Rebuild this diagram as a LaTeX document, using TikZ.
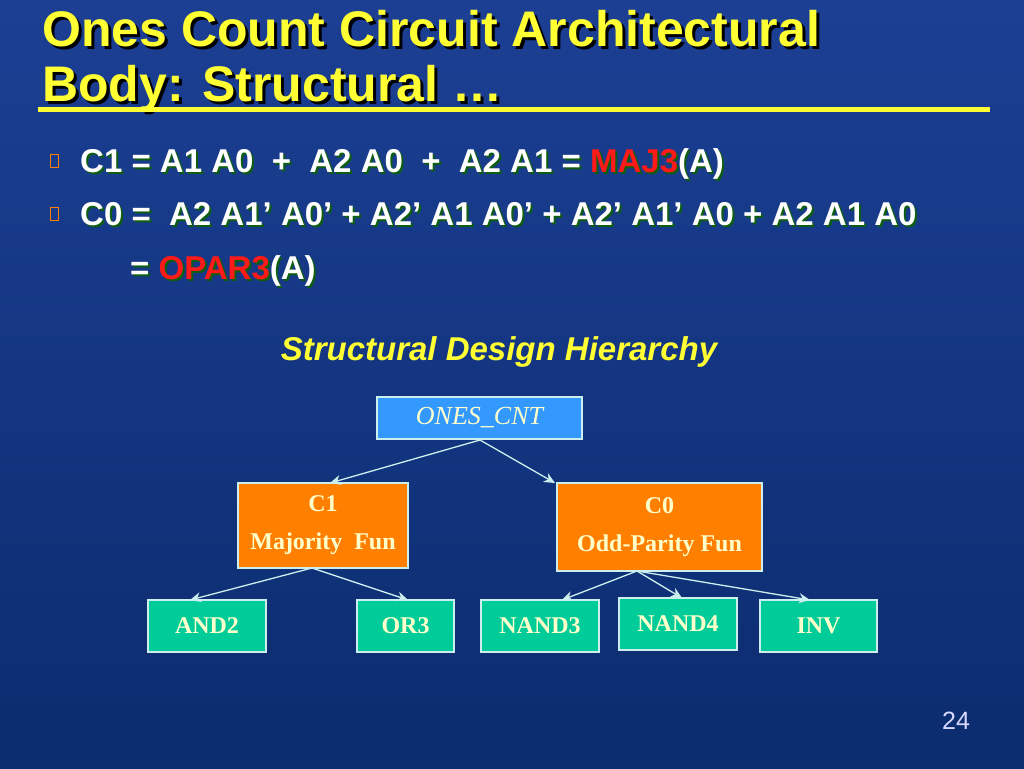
\documentclass[tikz,border=0pt]{standalone}
\usepackage{fontspec}
\setmainfont{Liberation Sans}
\newfontfamily\serifb{Liberation Serif}
\usetikzlibrary{arrows.meta}
\definecolor{bgtop}{HTML}{1C3F94}
\definecolor{bgbot}{HTML}{0B2C6E}
\definecolor{ttl}{HTML}{FFFF33}
\definecolor{sh}{HTML}{0E5E12}
\definecolor{mred}{HTML}{FF1A1A}
\definecolor{boxblue}{HTML}{3399FF}
\definecolor{boxor}{HTML}{FF8000}
\definecolor{boxgr}{HTML}{00CC99}
\definecolor{cream}{HTML}{FFFFCC}
\definecolor{edge}{HTML}{CCEEEE}
\tikzset{
 tb/.style={draw=edge,line width=1.2pt,minimum width=#1,inner sep=0pt,font=\serifb\bfseries\fontsize{24}{28}\selectfont,text=cream},
 arr/.style={draw=edge,line width=1.3pt,-{Stealth[length=11pt,width=10pt]}},
 ln/.style={anchor=base west,inner sep=0pt,font=\bfseries\fontsize{33}{36}\selectfont},
 tl/.style={anchor=base west,inner sep=0pt,font=\bfseries\fontsize{50}{54}\selectfont},
 bul/.style={draw=orange,line width=0.8pt,minimum width=8pt,minimum height=13pt,inner sep=0pt}
}
\begin{document}
\begin{tikzpicture}[x=1pt,y=-1pt]
\shade[top color=bgtop,bottom color=bgbot] (0,0) rectangle (1024,768);
\useasboundingbox (0,0) rectangle (1024,768);
% title
\node[tl,text=black] (t1s) at (45,49) {Ones Count Circuit Architectural};
\node[tl,text=ttl] (t1) at (42,46) {Ones Count Circuit Architectural};
\node[tl,text=black] (t2s) at (45,104) {Body: Structural \dots};
\node[tl,text=ttl] (t2) at (42,101) {Body: Structural \dots};
\draw[ttl,line width=5pt] (38,109) -- (990,109);
% bullets
\node[bul] (b1) at (54,161) {};
\node[bul] (b2) at (54,214) {};
\node[ln,text=sh] (l1s) at (82,174) {C1 = A1 A0\ \ +\ \ A2 A0\ \ +\ \ A2 A1 = \textcolor{sh}{MAJ3}(A)};
\node[ln,text=white] (l1) at (80,172) {C1 = A1 A0\ \ +\ \ A2 A0\ \ +\ \ A2 A1 = \textcolor{mred}{MAJ3}(A)};
\node[ln,text=sh] (l2s) at (82,227) {C0 =\ \ A2 A1’ A0’ + A2’ A1 A0’ + A2’ A1’ A0 + A2 A1 A0};
\node[ln,text=white] (l2) at (80,225) {C0 =\ \ A2 A1’ A0’ + A2’ A1 A0’ + A2’ A1’ A0 + A2 A1 A0};
\node[ln,text=sh] (l3s) at (132,281) {= \textcolor{sh}{OPAR3}(A)};
\node[ln,text=white] (l3) at (130,279) {= \textcolor{mred}{OPAR3}(A)};
% subtitle
\node[text=ttl,font=\bfseries\itshape\fontsize{33}{36}\selectfont] (sub) at (499,352) {Structural Design Hierarchy};
% tree
\node[tb=205pt,minimum height=42pt,fill=boxblue,font=\serifb\itshape\fontsize{26}{30}\selectfont] (top) at (479.5,418) {ONES\_CNT};
\node[tb=170pt,minimum height=85pt,fill=boxor,align=center] (c1) at (323,525.5) {C1\\[10pt]Majority\ \ Fun};
\node[tb=205pt,minimum height=88pt,fill=boxor,align=center] (c0) at (659.5,527) {C0\\[10pt]Odd-Parity Fun};
\node[tb=118pt,minimum height=52pt,fill=boxgr] (and2) at (207,626) {AND2};
\node[tb=97pt,minimum height=52pt,fill=boxgr] (or3) at (405.5,626) {OR3};
\node[tb=118pt,minimum height=52pt,fill=boxgr] (nand3) at (540,626) {NAND3};
\node[tb=118pt,minimum height=52pt,fill=boxgr] (nand4) at (678,624) {NAND4};
\node[tb=117pt,minimum height=52pt,fill=boxgr] (inv) at (818.5,626) {INV};
\coordinate (tp) at (480,440);
\coordinate (c1p) at (312,568);
\coordinate (c0p) at (637,571);
\draw[arr] (tp) -- (330,483);
\draw[arr] (tp) -- (555,483);
\draw[arr] (c1p) -- (190,600);
\draw[arr] (c1p) -- (408,600);
\draw[arr] (c0p) -- (562,600);
\draw[arr] (c0p) -- (682,598);
\draw[arr] (c0p) -- (810,600);
\node[text=white!85!blue,font=\fontsize{25}{28}\selectfont] (pg) at (956,721) {24};
\end{tikzpicture}
\end{document}
